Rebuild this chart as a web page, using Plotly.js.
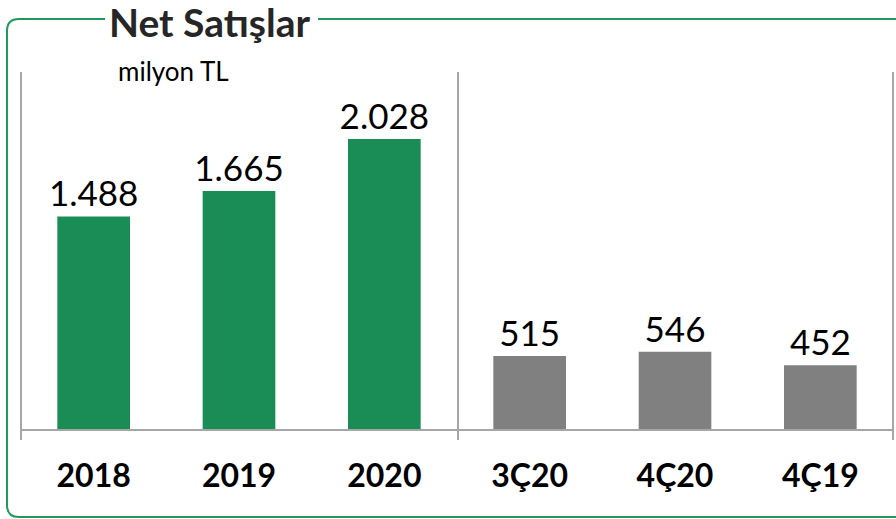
<!DOCTYPE html>
<html>
<head>
<meta charset="utf-8">
<script src="https://cdn.plot.ly/plotly-3.0.1.min.js"></script>
<style>html,body{margin:0;padding:0;background:#fff;}#chart{width:896px;height:519px;}</style>
</head>
<body>
<div id="chart"></div>
<script>
// ---- data ----
const categories = ["2018", "2019", "2020", "3Ç20", "4Ç20", "4Ç19"];
const annualCats = ["2018", "2019", "2020"];
const annualValues = [1488, 1665, 2028];
const quarterCats = ["3Ç20", "4Ç20", "4Ç19"];
const quarterValues = [515, 546, 452];
const titleText = "Net Satışlar";
const unitText = "milyon TL";

// ---- layout helpers (pixel -> paper) ----
const W = 896, H = 519;
const M = {l: 21, r: 3, t: 72, b: 89};
const PW = W - M.l - M.r, PH = H - M.t - M.b;
const px = x => (x - M.l) / PW;
const py = y => (H - M.b - y) / PH;

const FONT = "Lato, 'Open Sans', 'Liberation Sans', sans-serif";
const GREEN = "#1a8c56";
const GRAY = "#808080";
const LINE = "#a6a6a6";
const BORDER = "#1f9a5e";

const labelFont = {family: FONT, size: 35, color: "#000"};

const traces = [
  {type: "bar", x: annualCats, y: annualValues, marker: {color: GREEN},
   width: 0.5, texttemplate: "%{y:,}", textposition: "outside", constraintext: "none",
   textfont: labelFont, cliponaxis: false, hoverinfo: "skip"},
  {type: "bar", x: quarterCats, y: quarterValues, marker: {color: GRAY},
   width: 0.5, texttemplate: "%{y:,}", textposition: "outside", constraintext: "none",
   textfont: labelFont, cliponaxis: false, hoverinfo: "skip"}
];

const r = 12;
const leftPath = `M ${px(105)} ${py(19)} L ${px(7 + r)} ${py(19)} Q ${px(7)} ${py(19)} ${px(7)} ${py(19 + r)} ` +
  `L ${px(7)} ${py(517 - r)} Q ${px(7)} ${py(517)} ${px(7 + r)} ${py(517)} L ${px(905)} ${py(517)}`;

const shapes = [
  {type: "path", xref: "paper", yref: "paper", path: leftPath, line: {color: BORDER, width: 2}},
  {type: "line", xref: "paper", yref: "paper", x0: px(318), x1: px(905), y0: py(19), y1: py(19), line: {color: BORDER, width: 2}},
  {type: "line", xref: "paper", yref: "paper", x0: px(21), x1: px(893), y0: py(430), y1: py(430), line: {color: LINE, width: 2}},
  {type: "line", xref: "paper", yref: "paper", x0: px(21), x1: px(21), y0: py(72), y1: py(440), line: {color: LINE, width: 2}},
  {type: "line", xref: "paper", yref: "paper", x0: px(458), x1: px(458), y0: py(72), y1: py(440), line: {color: LINE, width: 2}},
  {type: "line", xref: "paper", yref: "paper", x0: px(893), x1: px(893), y0: py(72), y1: py(440), line: {color: LINE, width: 2}}
];

const layout = {
  width: W, height: H,
  margin: M,
  paper_bgcolor: "#fff", plot_bgcolor: "#fff",
  separators: ",.",
  showlegend: false,
  barmode: "overlay",
  xaxis: {type: "category", categoryorder: "array", categoryarray: categories,
          range: [-0.5, 5.5], showline: false, showgrid: false, zeroline: false, ticks: "",
          tickfont: {family: FONT, size: 32, color: "#000", weight: "bold"},
          ticklabelstandoff: 24},
  yaxis: {range: [0, 2495], visible: false, showgrid: false, zeroline: false},
  shapes: shapes,
  annotations: [
    {xref: "paper", yref: "paper", x: px(209), y: py(22), text: titleText, showarrow: false,
     xanchor: "center", yanchor: "middle",
     font: {family: FONT, size: 39, color: "#262626", weight: "bold"}},
    {xref: "paper", yref: "paper", x: px(173), y: py(71), text: unitText, showarrow: false,
     xanchor: "center", yanchor: "middle",
     font: {family: FONT, size: 26, color: "#000"}}
  ]
};

Plotly.newPlot("chart", traces, layout, {staticPlot: true, displayModeBar: false});
</script>
</body>
</html>
